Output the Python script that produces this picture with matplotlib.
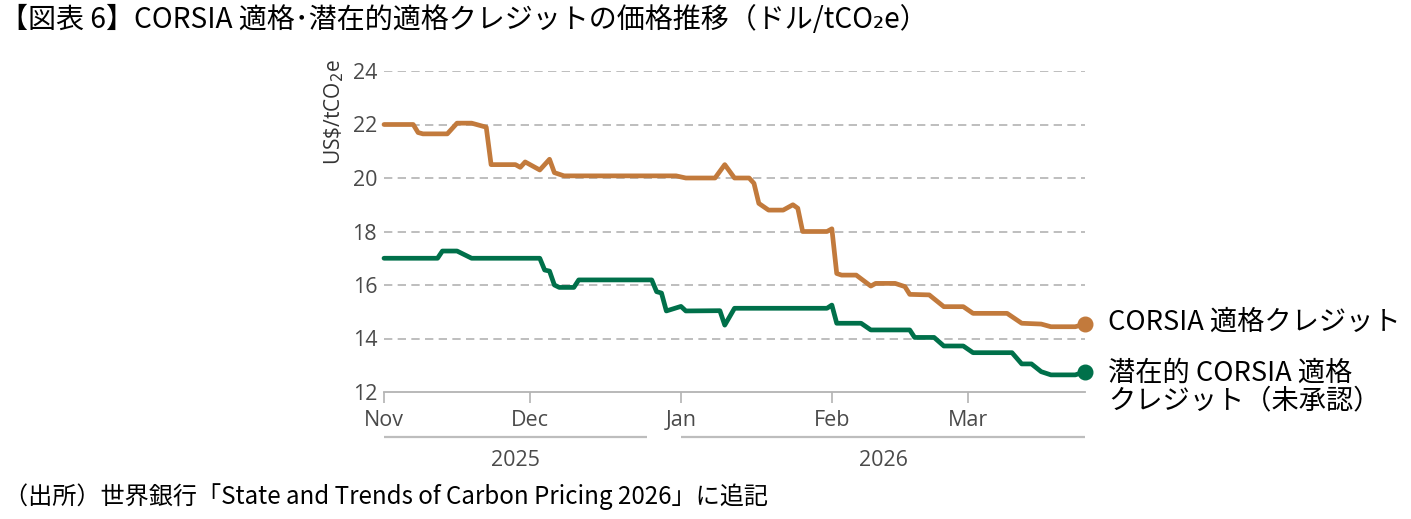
import matplotlib
matplotlib.use("Agg")
import matplotlib.pyplot as plt
import matplotlib.dates as mdates
import matplotlib.transforms as mtransforms
import pandas as pd

# ---------------- data ----------------
orange_dates = ["2025-11-01","2025-11-07","2025-11-08","2025-11-09","2025-11-14","2025-11-16",
                "2025-11-19","2025-11-21","2025-11-22","2025-11-23","2025-11-28","2025-11-29",
                "2025-11-30","2025-12-03","2025-12-05","2025-12-06","2025-12-08","2025-12-31",
                "2026-01-02","2026-01-08","2026-01-10","2026-01-12","2026-01-15","2026-01-16",
                "2026-01-17","2026-01-19","2026-01-22","2026-01-24","2026-01-25","2026-01-26",
                "2026-01-31","2026-02-01","2026-02-02","2026-02-03","2026-02-06","2026-02-09",
                "2026-02-10","2026-02-14","2026-02-16","2026-02-17","2026-02-21","2026-02-24",
                "2026-02-28","2026-03-02","2026-03-09","2026-03-12","2026-03-16","2026-03-18",
                "2026-03-23","2026-03-25"]
orange_vals = [22.0, 22.0, 21.7, 21.65, 21.65, 22.05,
               22.05, 21.95, 21.9, 20.5, 20.5, 20.4,
               20.6, 20.3, 20.7, 20.2, 20.08, 20.08,
               20.0, 20.0, 20.5, 20.0, 20.0, 19.8,
               19.05, 18.8, 18.8, 19.0, 18.87, 18.0,
               18.0, 18.1, 16.43, 16.37, 16.37, 15.96,
               16.06, 16.06, 15.94, 15.65, 15.63, 15.19,
               15.19, 14.94, 14.94, 14.57, 14.54, 14.44,
               14.44, 14.54]

green_dates = ["2025-11-01","2025-11-12","2025-11-13","2025-11-16","2025-11-19","2025-12-03",
               "2025-12-04","2025-12-05","2025-12-06","2025-12-07","2025-12-10","2025-12-11",
               "2025-12-26","2025-12-27","2025-12-28","2025-12-29","2026-01-01","2026-01-02",
               "2026-01-09","2026-01-10","2026-01-12","2026-01-31","2026-02-01","2026-02-02",
               "2026-02-07","2026-02-09","2026-02-17","2026-02-18","2026-02-22","2026-02-24",
               "2026-02-28","2026-03-02","2026-03-10","2026-03-12","2026-03-14","2026-03-16",
               "2026-03-18","2026-03-23","2026-03-25"]
green_vals = [17.0, 17.0, 17.27, 17.27, 17.0, 17.0,
              16.56, 16.52, 16.0, 15.91, 15.91, 16.19,
              16.19, 15.75, 15.7, 15.03, 15.2, 15.03,
              15.04, 14.5, 15.13, 15.13, 15.25, 14.57,
              14.57, 14.32, 14.32, 14.04, 14.04, 13.72,
              13.72, 13.47, 13.47, 13.05, 13.05, 12.76,
              12.64, 12.64, 12.76]

month_ticks = ["2025-11-01", "2025-12-01", "2026-01-01", "2026-02-01", "2026-03-01"]
month_labels = ["Nov", "Dec", "Jan", "Feb", "Mar"]
y_ticks = [12, 14, 16, 18, 20, 22, 24]
years = ["2025", "2026"]

title = "【図表 6】CORSIA 適格･潜在的適格クレジットの価格推移（ドル/tCO₂e）"
source = "（出所）世界銀行「State and Trends of Carbon Pricing 2026」に追記"
label_orange = "CORSIA 適格クレジット"
label_green = "潜在的 CORSIA 適格\nクレジット（未承認）"

ORANGE = "#C27A3C"
GREEN = "#00704A"
TICKC = "#4a4a4a"
GRIDC = "#b3b3b3"
JP = ["Noto Sans CJK JP", "DejaVu Sans"]
LAT = ["Open Sans", "DejaVu Sans"]

# ---------------- figure ----------------
W, H = 1411, 519
fig = plt.figure(figsize=(W / 100, H / 100), dpi=100)

def fx(px):
    return px / W

def fy(py):
    return 1 - py / H

ax = fig.add_axes([fx(384), fy(392), fx(1085) - fx(384), fy(71) - fy(392)])

od = pd.to_datetime(orange_dates)
gd = pd.to_datetime(green_dates)

ax.plot(od, orange_vals, color=ORANGE, lw=3.4, solid_joinstyle="round",
        solid_capstyle="round", zorder=3, clip_on=False)
ax.plot(gd, green_vals, color=GREEN, lw=3.4, solid_joinstyle="round",
        solid_capstyle="round", zorder=3, clip_on=False)
ax.plot(od[-1:], orange_vals[-1:], "o", color=ORANGE, ms=10.5, zorder=4, clip_on=False)
ax.plot(gd[-1:], green_vals[-1:], "o", color=GREEN, ms=10.5, zorder=4, clip_on=False)

ax.set_xlim(pd.Timestamp(month_ticks[0]), pd.Timestamp("2026-03-25"))
ax.set_ylim(12, 24)

ax.set_yticks(y_ticks)
ax.set_yticklabels([str(v) for v in y_ticks], family=LAT, fontsize=15.5, color=TICKC,
                   weight="medium")
ax.tick_params(axis="y", length=0, pad=5)

ax.set_xticks(pd.to_datetime(month_ticks))
ax.set_xticklabels(month_labels, family=LAT, fontsize=15.5, color=TICKC, weight="medium")
ax.tick_params(axis="x", length=8, width=1.2, color=GRIDC, pad=5, direction="out")

for s in ["top", "right", "left"]:
    ax.spines[s].set_visible(False)
ax.spines["bottom"].set_color(GRIDC)
ax.spines["bottom"].set_linewidth(1.3)

for v in y_ticks[1:]:
    ax.axhline(v, color=GRIDC, lw=1.2, dashes=(5, 3.2), zorder=1)

# year brackets
trans = mtransforms.blended_transform_factory(ax.transData, ax.transAxes)
yb = -(436.7 - 392) / (392 - 71)
yl = -(460 - 392) / (392 - 71)
spans = [("2025-11-01", "2025-12-25"), ("2026-01-01", "2026-03-25")]
for (a, b), yr in zip(spans, years):
    xa = mdates.date2num(pd.Timestamp(a))
    xb = mdates.date2num(pd.Timestamp(b))
    ax.plot([xa, xb], [yb, yb], transform=trans, color="#bdbdbd", lw=1.6,
            clip_on=False, solid_capstyle="butt")
    ax.text((xa + xb) / 2, yl, yr, transform=trans, ha="center", va="center",
            family=LAT, fontsize=15.5, color=TICKC, weight="medium")

# y label
fig.text(fx(334), fy(112), r"US\$/tCO$_2$e", rotation=90, ha="center", va="center",
         family=LAT, fontsize=15, color="#333333")

# right labels
fig.text(fx(1108), fy(322), label_orange, ha="left", va="center", family=JP,
         fontsize=19.6, color="black")
fig.text(fx(1108), fy(387), label_green, ha="left", va="center", family=JP,
         fontsize=19.6, color="black", linespacing=1.0)

# title and source
fig.text(fx(0), fy(20), title, ha="left", va="center", family=JP, fontsize=20.2,
         color="black")
fig.text(fx(4), fy(497), source, ha="left", va="center", family=JP, fontsize=17.4,
         color="black")

fig.savefig("out.png", dpi=100)
